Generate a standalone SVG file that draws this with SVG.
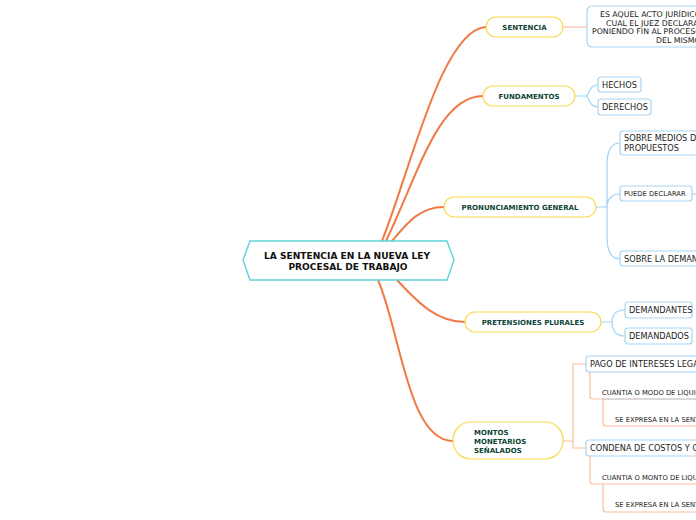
<svg xmlns="http://www.w3.org/2000/svg" width="696" height="520" viewBox="0 0 696 520">
<style>
.main{fill:none;stroke:#f07a45;stroke-width:2;stroke-linecap:round}
.lo{fill:none;stroke:#f9bfa3;stroke-width:1.2}
.bl{fill:none;stroke:#9fd2f5;stroke-width:1.2}
.gr{fill:none;stroke:#b9b0ab;stroke-width:1}
.t1{fill:#fff;stroke:#f8d94a;stroke-width:1.2}
.t2{fill:#fff;stroke:#a6d5f5;stroke-width:1.2}
.l1{font-family:"DejaVu Sans",Verdana,sans-serif;font-weight:bold;font-size:7px;fill:#0d4436;text-anchor:middle}
.l2{font-family:"DejaVu Sans",Verdana,sans-serif;font-size:8.2px;fill:#222}
.l3{font-family:"DejaVu Sans",Verdana,sans-serif;font-size:6.8px;fill:#222}
.d{font-family:"DejaVu Sans",Verdana,sans-serif;font-size:7.8px;fill:#222}
.c{font-family:"DejaVu Sans",Verdana,sans-serif;font-weight:bold;font-size:9.1px;fill:#111;text-anchor:middle}
</style>
<rect width="696" height="520" fill="#fff"/>
<g id="connectors">
<path class="main" d="M382,241 C412,165 442,30 486,27"/>
<path class="main" d="M386,241 C418,175 438,96 483,96"/>
<path class="main" d="M392,241 C408,222 420,207 444,207"/>
<path class="main" d="M397,280 C420,305 438,322 465,322"/>
<path class="main" d="M378,280 C400,330 408,441 453,441"/>
<path class="lo" d="M563,27 L587,27"/>
<path class="bl" d="M575,96 L585,96 C590,96 588,85 598,85 M585,96 C590,96 588,107 598,107"/>
<path class="bl" d="M596,207 L607,207 M620,143 C611,143 607,150 607,165 L607,237 C607,252 611,259 620,259 M607,207 C607,199 612,194 620,194"/>
<path class="bl" d="M692,194 L696,194"/>
<path class="bl" d="M601,322 L612,322 C612,315 616,310 625,310 M612,322 C612,330 616,336 625,336"/>
<path class="lo" d="M563,441 L573,441 M586,364 L573,364 L573,448 L586,448"/>
<path class="lo" d="M590,372 L590,396 Q590,399 593,399 L602,399"/>
<path class="gr" d="M602,399 L696,399"/>
<path class="lo" d="M603,399 L603,423 Q603,426 606,426 L696,426"/>
<path class="lo" d="M590,456 L590,481 Q590,484 593,484 L696,484 M603,484 L603,509 Q603,512 606,512 L696,512"/>
</g>
<g id="center">
<polygon points="250,241 447,241 454,260 447,280 250,280 243,260" fill="#fff" stroke="#5dd3da" stroke-width="1.4"/>
<text class="c" x="347" y="259">LA SENTENCIA EN LA NUEVA LEY</text>
<text class="c" x="348" y="270">PROCESAL DE TRABAJO</text>
</g>
<g id="sentencia">
<rect class="t1" x="486" y="17" width="77" height="20" rx="10"/>
<text class="l1" x="524.5" y="30">SENTENCIA</text>
</g>
<g id="sentencia-def">
<rect class="t2" x="587" y="6" width="120" height="41" rx="5"/>
<text class="d" x="600" y="17">ES AQUEL ACTO JURÍDICO</text>
<text class="d" x="606" y="25.5">CUAL EL JUEZ DECLARA</text>
<text class="d" x="592" y="34">PONIENDO FIN AL PROCESO</text>
<text class="d" x="656" y="42.5">DEL MISMO</text>
</g>
<g id="fundamentos">
<rect class="t1" x="483" y="86" width="92" height="20" rx="10"/>
<text class="l1" x="529" y="99">FUNDAMENTOS</text>
</g>
<g id="hechos">
<rect class="t2" x="598" y="77" width="43" height="15" rx="3"/>
<text class="l2" x="602" y="88">HECHOS</text>
</g>
<g id="derechos">
<rect class="t2" x="598" y="99" width="53" height="16" rx="3"/>
<text class="l2" x="602" y="110">DERECHOS</text>
</g>
<g id="pronunciamiento">
<rect class="t1" x="444" y="197" width="152" height="20" rx="10"/>
<text class="l1" x="520" y="210">PRONUNCIAMIENTO GENERAL</text>
</g>
<g id="medios">
<rect class="t2" x="620" y="131" width="90" height="24" rx="3"/>
<text class="l2" x="624" y="141">SOBRE MEDIOS D</text>
<text class="l2" x="624" y="151">PROPUESTOS</text>
</g>
<g id="puede">
<rect class="t2" x="620" y="186" width="72" height="15" rx="3"/>
<text class="l3" x="624" y="196">PUEDE DECLARAR</text>
</g>
<g id="demanda">
<rect class="t2" x="620" y="251" width="90" height="15" rx="3"/>
<text class="l2" x="624" y="262">SOBRE LA DEMAN</text>
</g>
<g id="pretensiones">
<rect class="t1" x="465" y="312" width="136" height="20" rx="10"/>
<text class="l1" x="533" y="325">PRETENSIONES PLURALES</text>
</g>
<g id="demandantes">
<rect class="t2" x="625" y="302" width="67" height="16" rx="3"/>
<text class="l2" x="629" y="313">DEMANDANTES</text>
</g>
<g id="demandados">
<rect class="t2" x="625" y="328" width="67" height="16" rx="3"/>
<text class="l2" x="629" y="339">DEMANDADOS</text>
</g>
<g id="montos">
<rect class="t1" x="453" y="422" width="110" height="37" rx="18"/>
<text class="l1" x="474" y="435" style="text-anchor:start">MONTOS</text>
<text class="l1" x="474" y="444" style="text-anchor:start">MONETARIOS</text>
<text class="l1" x="474" y="453" style="text-anchor:start">SEÑALADOS</text>
</g>
<g id="pago">
<rect class="t2" x="586" y="356" width="120" height="16" rx="3"/>
<text class="l2" x="590" y="367">PAGO DE INTERESES LEGA</text>
</g>
<g id="cuantia1">
<text class="l3" x="602" y="395">CUANTIA O MODO DE LIQUI</text>
</g>
<g id="expresa1">
<text class="l3" x="615" y="422">SE EXPRESA EN LA SENT</text>
</g>
<g id="condena">
<rect class="t2" x="586" y="440" width="120" height="16" rx="3"/>
<text class="l2" x="590" y="451">CONDENA DE COSTOS Y C</text>
</g>
<g id="cuantia2">
<text class="l3" x="602" y="480">CUANTIA O MONTO DE LIQU</text>
</g>
<g id="expresa2">
<text class="l3" x="615" y="507">SE EXPRESA EN LA SENT</text>
</g>
</svg>
